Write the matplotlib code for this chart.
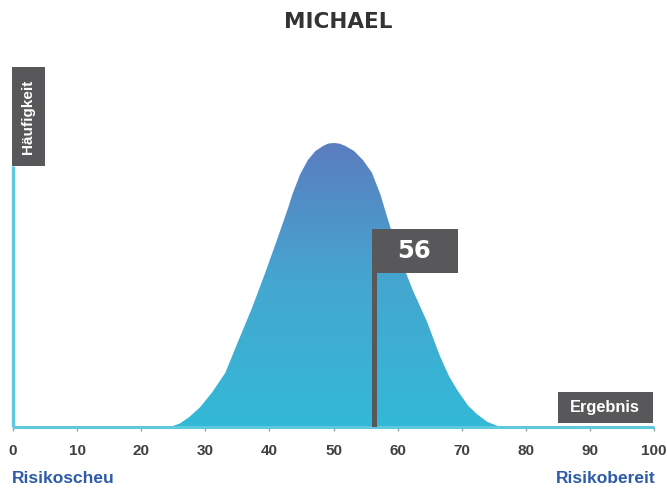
#bell curve chart with result marker

import matplotlib.pyplot as plt
import numpy as np
from matplotlib.colors import LinearSegmentedColormap
from matplotlib.patches import Rectangle, Polygon

#data
title = "MICHAEL"
curve_x = [24.5, 26.0, 27.5, 29.2, 31.0, 33.1, 35.1, 37.3, 39.3, 41.2, 42.9,
           43.6, 44.8, 46.0, 47.2, 48.4, 49.2, 50.0, 50.9, 51.8, 53.2, 54.6,
           56.0, 57.3, 58.5, 60.3, 62.4, 64.6, 66.6, 68.0, 69.3, 71.0, 72.4,
           74.0, 76.0]
curve_y = [0.0, 0.012, 0.035, 0.07, 0.12, 0.19, 0.30, 0.42, 0.54, 0.66, 0.77,
           0.82, 0.89, 0.94, 0.972, 0.99, 0.998, 1.0, 0.998, 0.99, 0.972, 0.94,
           0.895, 0.82, 0.73, 0.60, 0.48, 0.37, 0.25, 0.18, 0.13, 0.075, 0.045,
           0.018, 0.0]
result = 56
xticks = [0, 10, 20, 30, 40, 50, 60, 70, 80, 90, 100]
left_label = "Risikoscheu"
right_label = "Risikobereit"
y_label = "Häufigkeit"
x_label = "Ergebnis"

cyan = "#5ec9de"
dark = "#58585a"
blue_text = "#2c5ba8"

fig = plt.figure(figsize=(6.67, 4.9), dpi=100)
ax = fig.add_axes([13/667, 63/490, 641/667, 367/490])
ax.set_xlim(0, 100)
ax.set_ylim(0, 367/284)
for s in ax.spines.values():
    s.set_visible(False)
ax.set_yticks([])

#gradient fill under the curve
pts = list(zip(curve_x, curve_y)) + [(curve_x[-1], 0), (curve_x[0], 0)]
poly = Polygon(pts, closed=True, facecolor="none", edgecolor="none")
ax.add_patch(poly)
cmap = LinearSegmentedColormap.from_list("bell", ["#33b9d6", "#44a7d0", "#5b7dc0"])
grad = np.linspace(0, 1, 256).reshape(-1, 1)
im = ax.imshow(grad, cmap=cmap, origin="lower", aspect="auto",
               extent=[curve_x[0], curve_x[-1], 0, 1.0], zorder=2)
im.set_clip_path(poly)

#axes lines
ax.plot([0, 100], [0, 0], color=cyan, lw=2.2, zorder=3, clip_on=False,
        solid_capstyle="butt")
ax.plot([0, 0], [0, 0.919], color=cyan, lw=2.4, zorder=3, clip_on=False,
        solid_capstyle="butt")

#ticks
ax.set_xticks(xticks)
ax.set_xticklabels([str(t) for t in xticks])
ax.tick_params(axis="x", length=3, width=1, color="#8aa9b3", pad=9,
               labelsize=11, labelcolor="#404040")
for lab in ax.get_xticklabels():
    lab.set_fontfamily("Liberation Sans")
    lab.set_fontweight("bold")

#Häufigkeit box
ax.add_patch(Rectangle((-0.16, 0.919), 5.15, 0.349, facecolor=dark,
                       edgecolor="none", clip_on=False, zorder=4))
ax.text(2.4, 1.093, y_label, rotation=90, ha="center", va="center",
        color="white", fontsize=11, fontweight="bold",
        family="Liberation Sans", zorder=5, clip_on=False)

#Ergebnis box
ax.add_patch(Rectangle((85.0, 0.014), 14.8, 0.109, facecolor=dark,
                       edgecolor="none", clip_on=False, zorder=4))
ax.text(92.4, 0.068, x_label, ha="center", va="center", color="white",
        fontsize=11.8, fontweight="bold", family="Liberation Sans", zorder=5)

#result marker
ax.plot([result + 0.35, result + 0.35], [0, 0.6], color=dark, lw=3.6,
        zorder=4, solid_capstyle="butt")
ax.add_patch(Rectangle((result - 0.05, 0.542), 13.4, 0.155, facecolor=dark,
                       edgecolor="none", zorder=4))
ax.text(result + 6.6, 0.619, str(result), ha="center", va="center",
        color="white", fontsize=17.5, fontweight="bold", zorder=5)

#end labels
ax.text(-0.1, -0.18, left_label, ha="left", va="center", color=blue_text,
        fontsize=12.5, fontweight="bold", family="Liberation Sans",
        clip_on=False)
ax.text(100.2, -0.18, right_label, ha="right", va="center", color=blue_text,
        fontsize=12.5, fontweight="bold", family="Liberation Sans",
        clip_on=False)

#title
fig.text(0.507, 1 - 22/490, title, ha="center", va="center",
         fontsize=15.5, fontweight="bold", color="#333333")

fig.savefig("out.png", dpi=100)
